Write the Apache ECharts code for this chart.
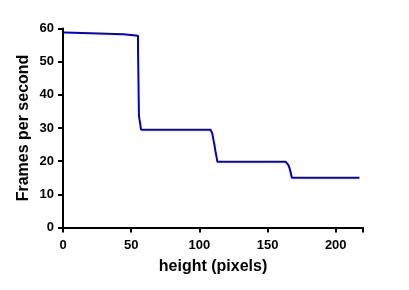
<!DOCTYPE html>
<html>
<head>
<meta charset="utf-8">
<script src="https://cdn.jsdelivr.net/npm/echarts@6/dist/echarts.min.js"></script>
<style>html,body{margin:0;padding:0;background:#fff;}#c{width:409px;height:290px;}</style>
</head>
<body>
<div id="c"></div>
<script>
var xValues = [0, 1.5, 1.5, 44.5, 44.5, 55, 55, 55.7, 55.7, 56.5, 56.5, 57.2, 57.2, 108.2, 108.8, 109.5, 110.3, 111, 111.8, 112.5, 113.2, 163.4, 164.3, 165.3, 166.2, 167, 167.8, 217.4];
var fpsValues = [58.8, 58.8, 58.3, 58.3, 57.8, 57.8, 53.8, 53.8, 33.6, 33.6, 31.6, 31.6, 29.5, 29.5, 29.2, 28.3, 26.5, 25, 23, 21.5, 19.8, 19.8, 19.5, 18.8, 17.8, 16.5, 15, 15];
var xTicks = [0, 50, 100, 150, 200];
var yTicks = [0, 10, 20, 30, 40, 50, 60];

var pts = xValues.map(function (x, i) { return [x, fpsValues[i]]; });
var font = "'Liberation Sans', Arial, sans-serif";
var chart = echarts.init(document.getElementById('c'), null, {renderer: 'canvas'});
chart.setOption({
  animation: false,
  grid: {left: 63, right: 46, top: 28.5, bottom: 62.5, containLabel: false},
  xAxis: {
    type: 'value', min: 0, max: 220, interval: 50,
    name: 'height (pixels)', nameLocation: 'middle', nameGap: 31, nameMoveOverlap: false,
    nameTextStyle: {fontFamily: font, fontWeight: 'bold', fontSize: 16, color: '#000'},
    axisLine: {show: true, lineStyle: {color: '#000', width: 2}},
    axisTick: {show: true, length: 5, lineStyle: {color: '#000', width: 2}},
    axisLabel: {margin: 11, fontFamily: font, fontWeight: 'bold', fontSize: 13, color: '#000',
      formatter: function (v) { return xTicks.indexOf(v) >= 0 ? String(v) : ''; }},
    splitLine: {show: false}
  },
  yAxis: {
    type: 'value', min: 0, max: 60, interval: 10,
    name: 'Frames per second', nameLocation: 'middle', nameGap: 31, nameMoveOverlap: false,
    nameTextStyle: {fontFamily: font, fontWeight: 'bold', fontSize: 16, color: '#000'},
    axisLine: {show: true, lineStyle: {color: '#000', width: 2}},
    axisTick: {show: true, length: 5, lineStyle: {color: '#000', width: 2}},
    axisLabel: {margin: 9, fontFamily: font, fontWeight: 'bold', fontSize: 13, color: '#000',
      formatter: function (v) { return yTicks.indexOf(v) >= 0 ? String(v) : ''; }},
    splitLine: {show: false}
  },
  series: [{
    type: 'line', data: pts, showSymbol: false, symbol: 'none',
    lineStyle: {color: '#0000CC', width: 2}, z: 1
  }]
});
</script>
</body>
</html>
